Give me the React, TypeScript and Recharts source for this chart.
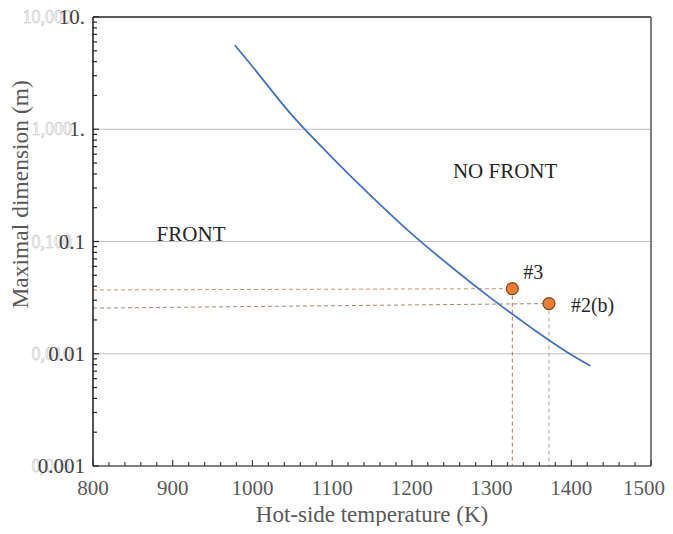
import React from "react";
import {
  ComposedChart,
  Line,
  Scatter,
  XAxis,
  YAxis,
  ReferenceLine,
  ReferenceDot,
} from "recharts";

// ---- data ----
const curveT = [978, 1000, 1050, 1100, 1150, 1200, 1250, 1300, 1350, 1400, 1424];
const curveD = [5.6, 3.62, 1.32, 0.56, 0.25, 0.117, 0.059, 0.031, 0.017, 0.0098, 0.0078];

const sampleNames = ["#3", "#2(b)"];
const sampleT = [1326, 1372];
const sampleD = [0.038, 0.028];
const guideLeftD = [0.037, 0.0255];

const xTicksMajor = [800, 900, 1000, 1100, 1200, 1300, 1400, 1500];
const yMajors = [0.001, 0.01, 0.1, 1, 10];
const yTickLabels = ["0.001", "0.01", "0.1", "1.", "10."];
const yGhostLabels = ["0,001", "0,010", "0,100", "1,000", "10,000"];

const regionLabels = ["NO FRONT", "FRONT"];
const regionT = [1317, 923];
const regionD = [0.43, 0.117];

// ---- derived ----
const curveData = curveT.map((t, i) => ({ t, d: curveD[i] }));
const sampleData = sampleT.map((t, i) => ({ t, d: sampleD[i], name: sampleNames[i] }));

const xTicks: number[] = [];
for (let v = 800; v <= 1500; v += 20) xTicks.push(v);

const yTicks: number[] = [];
yMajors.forEach((dec, i) => {
  yTicks.push(dec);
  if (i < yMajors.length - 1) {
    for (let m = 2; m <= 9; m++) yTicks.push(Number((m * dec).toPrecision(3)));
  }
});

const FONT = "'Liberation Serif', 'Times New Roman', serif";
const TEXT = "#595959";

const isMajorY = (v: number) =>
  Math.abs(Math.log10(v) - Math.round(Math.log10(v))) < 1e-9;

const YTick = (props: any) => {
  const { x, y, payload } = props;
  const v = payload.value;
  const major = isMajorY(v);
  const idx = yMajors.findIndex((m) => Math.abs(m - v) < 1e-12);
  return (
    <g>
      <line x1={x} x2={x + (major ? 6 : 4)} y1={y} y2={y} stroke="#262626" strokeWidth={1.2} />
      {major && idx >= 0 && (
        <>
          <text
            x={x - 21}
            y={y}
            textAnchor="end"
            dominantBaseline="central"
            fontFamily={FONT}
            fontSize={18}
            fill="#ffffff"
            stroke="#c4c4c4"
            strokeWidth={0.6}
          >
            {yGhostLabels[idx]}
          </text>
          <text
            x={x - 8}
            y={y}
            textAnchor="end"
            dominantBaseline="central"
            fontFamily={FONT}
            fontSize={21}
            fill="#404040"
          >
            {yTickLabels[idx]}
          </text>
        </>
      )}
    </g>
  );
};

const XTick = (props: any) => {
  const { x, y, payload } = props;
  const v = payload.value;
  const major = xTicksMajor.includes(v);
  const last = v === xTicksMajor[xTicksMajor.length - 1];
  return (
    <g>
      <line x1={x} x2={x} y1={y} y2={y - (major ? 6 : 4)} stroke="#404040" strokeWidth={1.2} />
      {major && (
        <text
          x={last ? x + 14 : x}
          y={y + 22}
          textAnchor={last ? "end" : "middle"}
          dominantBaseline="central"
          fontFamily={FONT}
          fontSize={21}
          fill={TEXT}
        >
          {v}
        </text>
      )}
    </g>
  );
};

const SampleShape = (props: any) => {
  const { cx, cy, payload } = props;
  const first = payload.name === sampleNames[0];
  return (
    <g>
      <circle cx={cx} cy={cy} r={6} fill="#ED7D31" stroke="#8a4513" strokeWidth={1.2} />
      <text
        x={first ? cx + 11 : cx + 22}
        y={first ? cy - 17 : cy + 1}
        textAnchor="start"
        dominantBaseline="central"
        fontFamily={FONT}
        fontSize={20}
        fill="#262626"
      >
        {payload.name}
      </text>
    </g>
  );
};

const guideColorsH = ["#c8966e", "#a08878"];
const guideColorsV = ["#a0785a", "#a6a6a6"];

export default function App() {
  return (
    <div style={{ margin: -8, width: 673, height: 534, overflow: "hidden" }}>
      <ComposedChart
        width={673}
        height={534}
        margin={{ top: 17, right: 22, left: 0, bottom: 0 }}
      >
        <XAxis
          dataKey="t"
          type="number"
          domain={[800, 1500]}
          ticks={xTicks}
          interval={0}
          tickSize={0}
          tickMargin={0}
          tick={<XTick />}
          axisLine={{ stroke: "#595959", strokeWidth: 1.5 }}
          tickLine={false}
          height={68}
          allowDataOverflow
          label={{
            content: (p: any) => {
              const vb = p.viewBox;
              return (
                <text
                  x={vb.x + vb.width / 2}
                  y={vb.y + 48}
                  textAnchor="middle"
                  dominantBaseline="central"
                  fontFamily={FONT}
                  fontSize={23}
                  fill={TEXT}
                >
                  Hot-side temperature (K)
                </text>
              );
            },
          }}
        />
        <YAxis
          dataKey="d"
          type="number"
          scale="log"
          domain={[0.001, 10]}
          ticks={yTicks}
          interval={0}
          tickSize={0}
          tickMargin={0}
          tick={<YTick />}
          axisLine={{ stroke: "#1a1a1a", strokeWidth: 1.5 }}
          tickLine={false}
          width={93}
          allowDataOverflow
          label={{
            content: (p: any) => {
              const vb = p.viewBox;
              const cx = vb.x + 20;
              const cy = vb.y + vb.height * 0.395;
              return (
                <text
                  x={cx}
                  y={cy}
                  textAnchor="middle"
                  dominantBaseline="central"
                  transform={`rotate(-90 ${cx} ${cy})`}
                  fontFamily={FONT}
                  fontSize={23.5}
                  fill={TEXT}
                >
                  Maximal dimension (m)
                </text>
              );
            },
          }}
        />
        {yMajors.slice(1, -1).map((v) => (
          <ReferenceLine key={"g" + v} y={v} stroke="#bfbfbf" strokeWidth={1.2} />
        ))}
        <ReferenceLine y={10} stroke="#262626" strokeWidth={1.5} ifOverflow="visible" />
        <ReferenceLine x={1500} stroke="#7f7f7f" strokeWidth={2} ifOverflow="visible" />

        {sampleT.map((t, i) => (
          <Line
            key={"h" + i}
            data={[
              { t: 800, d: guideLeftD[i] },
              { t, d: sampleD[i] },
            ]}
            dataKey="d"
            stroke={guideColorsH[i]}
            strokeWidth={1}
            strokeDasharray="4 3"
            dot={false}
            activeDot={false}
            isAnimationActive={false}
          />
        ))}
        {sampleT.map((t, i) => (
          <Line
            key={"v" + i}
            data={[
              { t, d: sampleD[i] },
              { t, d: yMajors[0] },
            ]}
            dataKey="d"
            stroke={guideColorsV[i]}
            strokeWidth={1}
            strokeDasharray="4 3"
            dot={false}
            activeDot={false}
            isAnimationActive={false}
          />
        ))}

        <Line
          data={curveData}
          dataKey="d"
          type="monotone"
          stroke="#4472C4"
          strokeWidth={1.8}
          dot={false}
          activeDot={false}
          isAnimationActive={false}
        />

        <Scatter data={sampleData} dataKey="d" shape={<SampleShape />} isAnimationActive={false} />

        {regionLabels.map((lab, i) => (
          <ReferenceDot
            key={lab}
            x={regionT[i]}
            y={regionD[i]}
            r={0}
            fill="none"
            stroke="none"
            label={{
              value: lab,
              position: "center",
              fontFamily: FONT,
              fontSize: 21,
              fill: "#262626",
            }}
          />
        ))}
      </ComposedChart>
    </div>
  );
}
